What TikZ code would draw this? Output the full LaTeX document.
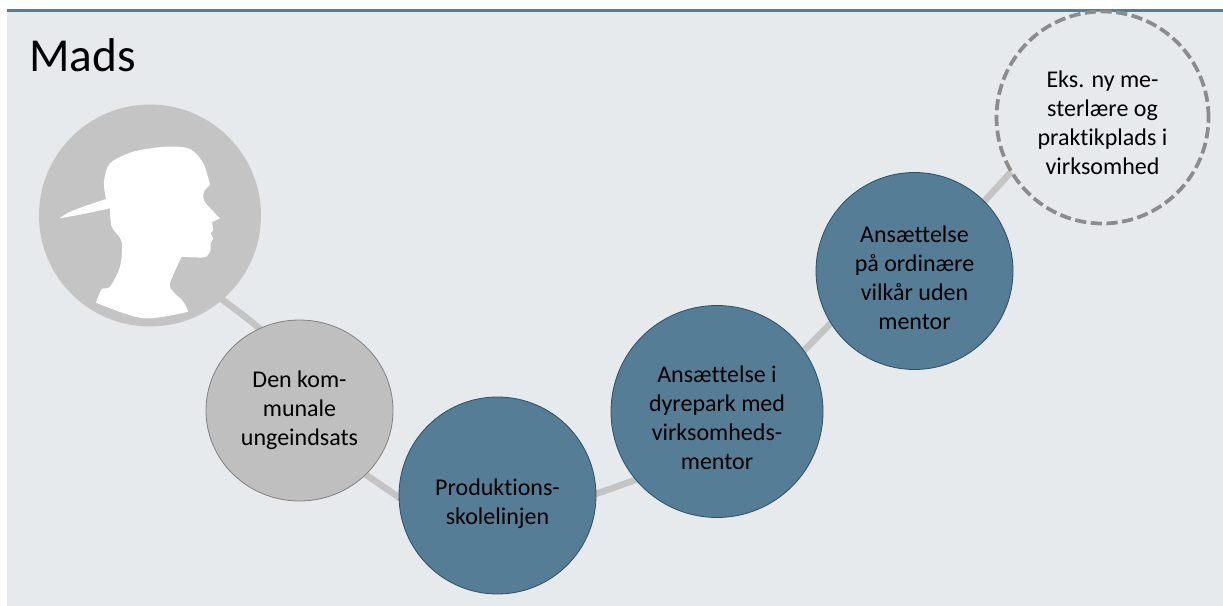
\documentclass[tikz,border=0pt]{standalone}
\usepackage{fontspec}
\setmainfont[Ligatures=CommonOff]{Carlito}
\usetikzlibrary{backgrounds,shapes.geometric}
\definecolor{panel}{HTML}{E7EAED}
\definecolor{topline}{HTML}{557D96}
\definecolor{bluefill}{HTML}{557D96}
\definecolor{blueedge}{HTML}{2B4F66}
\definecolor{greyfill}{HTML}{BFBFBF}
\definecolor{greyedge}{HTML}{808080}
\definecolor{link}{HTML}{C4C4C4}
\definecolor{dash}{HTML}{8C8C8C}
\newcommand{\lowtext}[2]{\raisebox{#1}[0pt][0pt]{\begin{tabular}[c]{@{}c@{}}#2\end{tabular}}}
\tikzset{
  px/.style={x=0.75pt,y=-0.75pt},
  stage/.style={circle,inner sep=0pt,align=center,font=\fontsize{18}{21.75}\selectfont,text=black},
  bluestage/.style={stage,fill=bluefill,draw=blueedge,line width=0.6pt},
  greystage/.style={stage,ellipse,fill=greyfill,draw=greyedge,line width=0.6pt},
  openstage/.style={stage,fill=panel,draw=dash,line width=2.8pt,dash pattern=on 8.4pt off 3.4pt},
  headdisc/.style={circle,inner sep=0pt,fill=link},
  linkline/.style={line width=4.9pt,draw=link,shorten <=-3pt,shorten >=-3pt},
}
\begin{document}
\begin{tikzpicture}[px]
\useasboundingbox (0,0) rectangle (1223,606);
\node[anchor=west,font=\fontsize{35.5}{40}\selectfont,text=black,inner sep=0pt] (title) at (29,55) {Mads};
\node[headdisc,minimum size=222*0.75pt] (head) at (150,215.5) {};
\node[greystage,minimum width=187*0.75pt,minimum height=181*0.75pt] (kom) at (299.5,410.5) {\lowtext{-4.1pt}{Den kom-\\munale\\ungeindsats}};
\node[bluestage,minimum size=197*0.75pt] (prod) at (497.5,495.5) {\lowtext{-10.5pt}{Produktions-\\skolelinjen}};
\node[bluestage,minimum size=212*0.75pt] (dyre) at (717,411.5) {\lowtext{-10.5pt}{Ansættelse i\\dyrepark med\\virksomheds-\\mentor}};
\node[bluestage,minimum size=197*0.75pt] (ord) at (914.5,271) {\lowtext{-11pt}{Ansættelse\\på ordinære\\vilkår uden\\mentor}};
\node[openstage,minimum size=212*0.75pt] (eks) at (1102.5,117.5) {\lowtext{-9.8pt}{Eks. ny me-\\sterlære og\\praktikplads i\\virksomhed}};
\begin{scope}[x=0.25pt,y=-0.25pt]
\fill[white] plot[smooth,tension=0.45] coordinates {(178,655) (205,638) (250,620) (318,597)}
  -- plot[smooth,tension=0.5] coordinates {(318,597) (312,545) (330,490) (400,455) (500,440) (570,447) (610,490) (630,555)}
  -- plot[smooth,tension=0.5] coordinates {(630,555) (612,575) (614,605) (660,655)}
  -- (636,666) -- (640,690) -- (632,700) -- (640,715) -- (632,730)
  -- plot[smooth,tension=0.5] coordinates {(632,730) (630,755) (612,772) (545,770)}
  -- plot[smooth,tension=0.5] coordinates {(545,770) (510,850) (520,875) (550,905) (565,935)}
  -- plot[smooth,tension=0.5] coordinates {(565,935) (430,955) (288,908)}
  -- plot[smooth,tension=0.5] coordinates {(288,908) (305,868) (330,860) (360,800) (365,725) (335,680) (330,625)}
  -- plot[smooth,tension=0.45] coordinates {(330,625) (250,642) (178,655)} -- cycle;
\end{scope}
\begin{pgfonlayer}{background}
\fill[panel] (7,10) rectangle (1223,606);
\fill[topline] (7,9) rectangle (1223,12);
\draw[linkline] (head.center) .. controls (190,315) and (300,310) .. (kom.center);
\draw[linkline] (kom.-44) -- (prod.181);
\draw[linkline] (prod.1.5) -- (dyre.220);
\draw[linkline] (dyre.35) -- (ord.212.6);
\draw[linkline] (ord.45) -- (eks.211.5);
\end{pgfonlayer}
\end{tikzpicture}
\end{document}
